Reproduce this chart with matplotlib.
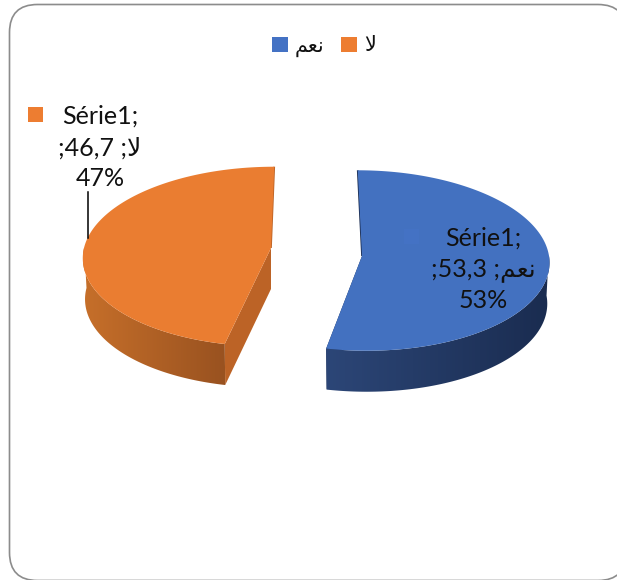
import numpy as np
import matplotlib
matplotlib.use("Agg")
import matplotlib.pyplot as plt
from matplotlib.colors import to_rgb
from matplotlib.patches import FancyBboxPatch, Patch, Polygon, Rectangle

plt.rcParams['font.family'] = ['Lato', 'DejaVu Sans']

# arabic typed as presentation forms in visual order, matplotlib has no shaping
categories = ["\uFEE2\uFECC\uFEE7", "\uFEFB"]  # naam, la
values = [53.3, 46.7]
percents = ["53%", "47%"]
series_name = "Série1;"

legend_colors = ["#4472C4", "#ED7D31"]
top_colors = ["#4371C0", "#EA7D31"]
side_left = ["#2C4677", "#C66F2A"]
side_right = ["#1A2C50", "#995220"]
cut_colors = ["#1A2C50", "#BC6326"]

# one set of fake-3d settings per slice: centre, radius y, perspective, shear
centers = [(362, 256), (271, 248)]
radius_y = [90, 89]
persp = [0.05, 0.095]
shear = [0.05, -0.04]
RX, DEPTH = 187, 41

fig = plt.figure(figsize=(6.17, 5.80), dpi=100)
ax = fig.add_axes([0, 0, 1, 1])

ax.add_patch(FancyBboxPatch((9.5, 4.5), 616.5, 576, boxstyle="round,pad=0,rounding_size=28",
                            fc="white", ec="#8C8C8C", lw=1.2))


def project(i, theta, drop=0.0):
    # theta clockwise from the top, front of the disc drawn a bit bigger
    c = centers[i]
    u, v = np.sin(theta), np.cos(theta)
    s = 1 / (1 + persp[i] * v)
    k = 1 - 0.012 * drop / DEPTH
    dy = -radius_y[i] * v * s
    return c[0] + RX * u * s * k + shear[i] * dy, c[1] + dy + drop


starts = np.cumsum([0] + values[:-1]) / sum(values) * 2 * np.pi
ends = np.cumsum(values) / sum(values) * 2 * np.pi

for i, (a0, a1) in enumerate(zip(starts, ends)):
    c = centers[i]
    th = np.linspace(a0, a1, 240)

    # back edge is only a thin dark line
    back = a0 if i == 0 else a1
    bx, by = project(i, back)
    ax.plot([bx, c[0]], [by, c[1]], color=cut_colors[i], lw=1.2, solid_capstyle="butt", zorder=2)

    # cut face toward the viewer
    near = a1 if i == 0 else a0
    ax.add_patch(Polygon([c, project(i, near), project(i, near, DEPTH), (c[0], c[1] + DEPTH)],
                         fc=cut_colors[i], ec="none", zorder=2))

    # rim with a horizontal gradient, clipped to the visible arc
    front = th[np.cos(th) <= 0.02]
    ux, uy = project(i, front)
    lx, ly = project(i, front, DEPTH)
    rim = Polygon(np.r_[np.c_[ux, uy], np.c_[lx, ly][::-1]], fc="none", ec="none", zorder=3)
    ax.add_patch(rim)
    x0, x1 = min(ux.min(), lx.min()), max(ux.max(), lx.max())
    y0, y1 = min(uy.min(), ly.min()), max(uy.max(), ly.max())
    grad = np.linspace(to_rgb(side_left[i]), to_rgb(side_right[i]), 64)[None, :, :]
    img = ax.imshow(grad, extent=(x0, x1, y1, y0), aspect="auto", interpolation="bilinear", zorder=3)
    img.set_clip_path(rim)

    # top face
    px, py = project(i, th)
    ax.add_patch(Polygon(np.r_[[c], np.c_[px, py]], fc=top_colors[i], ec="none", zorder=4))

ax.set_xlim(0, 617)
ax.set_ylim(580, 0)
ax.axis("off")

# legend
handles = [Patch(fc=col, ec="none") for col in legend_colors]
ax.legend(handles, categories, ncol=2, loc="center", bbox_to_anchor=(324 / 617, 1 - 46 / 580),
          frameon=False, fontsize=15, handlelength=0.75, handleheight=0.75, labelcolor="#111111",
          handletextpad=0.35, columnspacing=0.8, borderpad=0)


def value_text(v, cat):
    return ";" + f"{v:.1f}".replace(".", ",") + " ;" + cat


# data labels, orange one sits outside with a leader line
ax.add_patch(Rectangle((28, 107), 15, 15, fc=legend_colors[1], ec="none", zorder=6))
ax.add_patch(Rectangle((404, 229), 15, 15, fc=legend_colors[0], ec="none", zorder=5))
ax.plot([88, 88], [192, 238], color="black", lw=1.1, zorder=6)
for x, ys, i in [(100, (116, 148, 178), 1), (483, (238, 270, 301), 0)]:
    lines = [series_name, value_text(values[i], categories[i]), percents[i]]
    for y, line in zip(ys, lines):
        ax.text(x, y, line, ha="center", va="center", fontsize=18, color="#111111", zorder=7)

fig.savefig("out.png", dpi=100)
